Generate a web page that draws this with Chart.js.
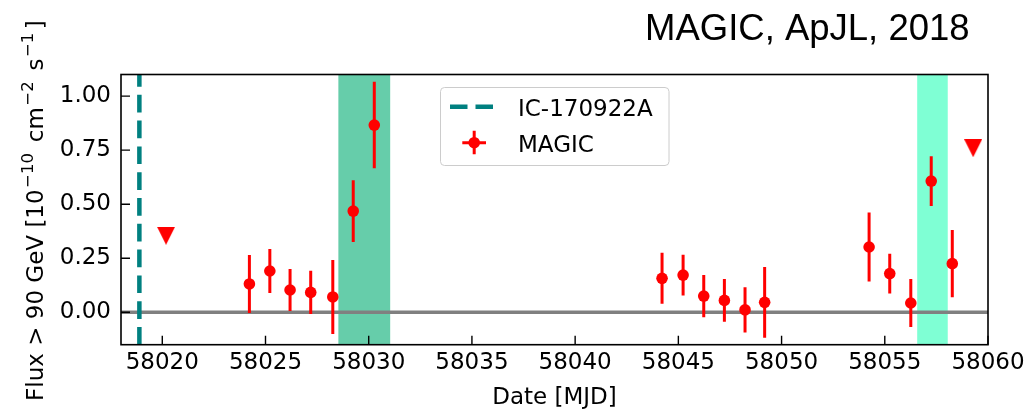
<!DOCTYPE html>
<html>
<head>
<meta charset="utf-8">
<script src="https://cdn.jsdelivr.net/npm/chart.js@4"></script>
<style>
  html, body { margin: 0; padding: 0; background: #fff; }
  #wrap { width: 1030px; height: 411px; }
</style>
</head>
<body>
<div id="wrap"><canvas id="lc" width="1030" height="411"></canvas></div>
<script>
// nightly MAGIC fluxes above 90 GeV, 1e-10 cm^-2 s^-1
const obsMjd = [58024.22, 58025.21, 58026.19, 58027.19, 58028.26, 58029.25, 58030.27,
                58044.21, 58045.23, 58046.23, 58047.23, 58048.23, 58049.18,
                58054.24, 58055.24, 58056.26, 58057.25, 58058.27];
const obsFlux = [0.131, 0.191, 0.103, 0.092, 0.071, 0.468, 0.866,
                 0.157, 0.172, 0.075, 0.055, 0.011, 0.046,
                 0.302, 0.179, 0.043, 0.607, 0.225];
const obsErr = [0.134, 0.102, 0.097, 0.100, 0.171, 0.143, 0.200,
                0.118, 0.094, 0.098, 0.099, 0.105, 0.164,
                0.160, 0.092, 0.111, 0.115, 0.156];

// upper limits
const ulMjd = [58020.18, 58059.28];
const ulFlux = [0.354, 0.759];

// neutrino alert time and shaded windows
const icMjd = 58018.89;
const bandStart = [58028.53, 58056.57];
const bandEnd = [58031.04, 58058.05];
const bandColors = ['#66cdaa', '#7fffd4'];

const xTicks = [58020, 58025, 58030, 58035, 58040, 58045, 58050, 58055, 58060];
const yTicks = [0, 0.25, 0.5, 0.75, 1.0];
const xRange = [58018, 58060];
const yRange = [-0.15, 1.1];

const MAIN_FONT = '"DejaVu Sans", sans-serif';

// downward triangle marker for the upper limits
function triangleDown(size, color) {
    const c = document.createElement('canvas');
    c.width = size;
    c.height = size;
    const g = c.getContext('2d');
    g.fillStyle = color;
    g.beginPath();
    g.moveTo(0, 0);
    g.lineTo(size, 0);
    g.lineTo(size / 2, size);
    g.closePath();
    g.fill();
    return c;
}

const decorations = {
    id: 'decorations',
    beforeDatasetsDraw(chart) {
        const { ctx, chartArea: a, scales: { x, y } } = chart;
        ctx.save();
        ctx.beginPath();
        ctx.rect(a.left, a.top, a.right - a.left, a.bottom - a.top);
        ctx.clip();

        bandStart.forEach((s, i) => {
            const x0 = x.getPixelForValue(s);
            const x1 = x.getPixelForValue(bandEnd[i]);
            ctx.fillStyle = bandColors[i];
            ctx.fillRect(x0, a.top, x1 - x0, a.bottom - a.top);
        });

        // zero level
        const y0 = y.getPixelForValue(0);
        ctx.strokeStyle = '#808080';
        ctx.lineWidth = 3.5;
        ctx.beginPath();
        ctx.moveTo(a.left, y0);
        ctx.lineTo(a.right, y0);
        ctx.stroke();

        // neutrino arrival
        const xi = x.getPixelForValue(icMjd);
        ctx.strokeStyle = '#008080';
        ctx.lineWidth = 4.5;
        ctx.setLineDash([17.7, 8.1]);
        ctx.beginPath();
        ctx.moveTo(xi, a.bottom);
        ctx.lineTo(xi, a.top);
        ctx.stroke();
        ctx.setLineDash([]);

        // flux error bars
        ctx.strokeStyle = '#ff0000';
        ctx.lineWidth = 3;
        obsMjd.forEach((m, i) => {
            const px = x.getPixelForValue(m);
            ctx.beginPath();
            ctx.moveTo(px, y.getPixelForValue(obsFlux[i] + obsErr[i]));
            ctx.lineTo(px, y.getPixelForValue(obsFlux[i] - obsErr[i]));
            ctx.stroke();
        });
        ctx.restore();
    },
    afterDraw(chart) {
        const { ctx, chartArea: a, scales: { x, y } } = chart;
        ctx.save();

        // inward ticks
        ctx.strokeStyle = '#000';
        ctx.lineWidth = 1.4;
        ctx.beginPath();
        xTicks.forEach(v => {
            const px = x.getPixelForValue(v);
            ctx.moveTo(px, a.bottom);
            ctx.lineTo(px, a.bottom - 9);
        });
        yTicks.forEach(v => {
            const py = y.getPixelForValue(v);
            ctx.moveTo(a.left, py);
            ctx.lineTo(a.left + 9, py);
        });
        ctx.stroke();

        // frame
        ctx.lineWidth = 1.6;
        ctx.strokeRect(a.left, a.top, a.right - a.left, a.bottom - a.top);

        // x axis title
        ctx.fillStyle = '#000';
        ctx.font = '23px ' + MAIN_FONT;
        ctx.textAlign = 'center';
        ctx.textBaseline = 'alphabetic';
        ctx.fillText('Date [MJD]', (a.left + a.right) / 2, 404);

        // y axis title with superscripts (small gap after each exponent)
        const parts = [
            ['Flux > 90 GeV [10', false], ['\u221210', true], [' cm', false],
            ['\u22122', true], [' s', false], ['\u22121', true], [']', false]
        ];
        const supGap = 5;
        const fontFor = sup => (sup ? '16.5px ' : '23px ') + MAIN_FONT;
        let total = 0;
        parts.forEach(([t, sup]) => {
            ctx.font = fontFor(sup);
            total += ctx.measureText(t).width + (sup ? supGap : 0);
        });
        ctx.translate(43, (a.top + a.bottom) / 2 + 1);
        ctx.rotate(-Math.PI / 2);
        ctx.textAlign = 'left';
        let cx = -total / 2;
        parts.forEach(([t, sup]) => {
            ctx.font = fontFor(sup);
            ctx.fillText(t, cx + (sup ? 1.5 : 0), sup ? -9.7 : 0);
            cx += ctx.measureText(t).width + (sup ? supGap : 0);
        });
        ctx.setTransform(1, 0, 0, 1, 0, 0);

        // legend
        const lx = 440.5, ly = 87.5, lw = 228.5, lh = 78;
        ctx.fillStyle = 'rgba(255,255,255,0.8)';
        ctx.strokeStyle = '#cccccc';
        ctx.lineWidth = 1;
        ctx.beginPath();
        ctx.roundRect(lx, ly, lw, lh, 4);
        ctx.fill();
        ctx.stroke();

        ctx.strokeStyle = '#008080';
        ctx.lineWidth = 4.5;
        ctx.setLineDash([17.5, 8]);
        ctx.beginPath();
        ctx.moveTo(450, 106.7);
        ctx.lineTo(493, 106.7);
        ctx.stroke();
        ctx.setLineDash([]);

        ctx.strokeStyle = '#ff0000';
        ctx.fillStyle = '#ff0000';
        ctx.lineWidth = 3;
        ctx.beginPath();
        ctx.moveTo(462.3, 142.7);
        ctx.lineTo(486, 142.7);
        ctx.moveTo(474.2, 130.7);
        ctx.lineTo(474.2, 154.3);
        ctx.stroke();
        ctx.beginPath();
        ctx.arc(474.2, 142.7, 5.8, 0, Math.PI * 2);
        ctx.fill();

        ctx.fillStyle = '#000';
        ctx.font = '23px ' + MAIN_FONT;
        ctx.textAlign = 'left';
        ctx.fillText('IC-170922A', 518, 116);
        ctx.fillText('MAGIC', 518, 151.7);

        // title
        ctx.font = '36.5px "Liberation Sans", Arial, sans-serif';
        ctx.fillText('MAGIC, ApJL, 2018', 645, 40);
        ctx.restore();
    }
};

new Chart(document.getElementById('lc'), {
    type: 'scatter',
    data: {
        datasets: [
            {
                label: 'MAGIC',
                data: obsMjd.map((m, i) => ({ x: m, y: obsFlux[i] })),
                backgroundColor: '#ff0000',
                borderWidth: 0,
                pointRadius: 5.8,
                pointHoverRadius: 5.8
            },
            {
                label: 'UL',
                data: ulMjd.map((m, i) => ({ x: m, y: ulFlux[i] })),
                pointStyle: triangleDown(18, '#ff0000'),
                backgroundColor: '#ff0000',
                borderWidth: 0
            }
        ]
    },
    options: {
        responsive: false,
        animation: false,
        events: [],
        layout: { padding: { top: 74.5, right: 42, bottom: 0, left: 0 } },
        plugins: { legend: { display: false }, tooltip: { enabled: false } },
        scales: {
            x: {
                type: 'linear',
                min: xRange[0],
                max: xRange[1],
                afterBuildTicks: s => { s.ticks = xTicks.map(v => ({ value: v })); },
                afterFit: s => { s.height = 66.3; },
                grid: { display: false, drawTicks: false },
                border: { display: false },
                ticks: {
                    color: '#000',
                    font: { family: MAIN_FONT, size: 23 },
                    padding: 5,
                    maxRotation: 0,
                    autoSkip: false,
                    callback: v => String(v)
                }
            },
            y: {
                min: yRange[0],
                max: yRange[1],
                afterBuildTicks: s => { s.ticks = yTicks.map(v => ({ value: v })); },
                afterFit: s => { s.width = 121; },
                grid: { display: false, drawTicks: false },
                border: { display: false },
                ticks: {
                    color: '#000',
                    font: { family: MAIN_FONT, size: 23 },
                    padding: 10,
                    callback: v => v.toFixed(2)
                }
            }
        }
    },
    plugins: [decorations]
});
</script>
</body>
</html>
